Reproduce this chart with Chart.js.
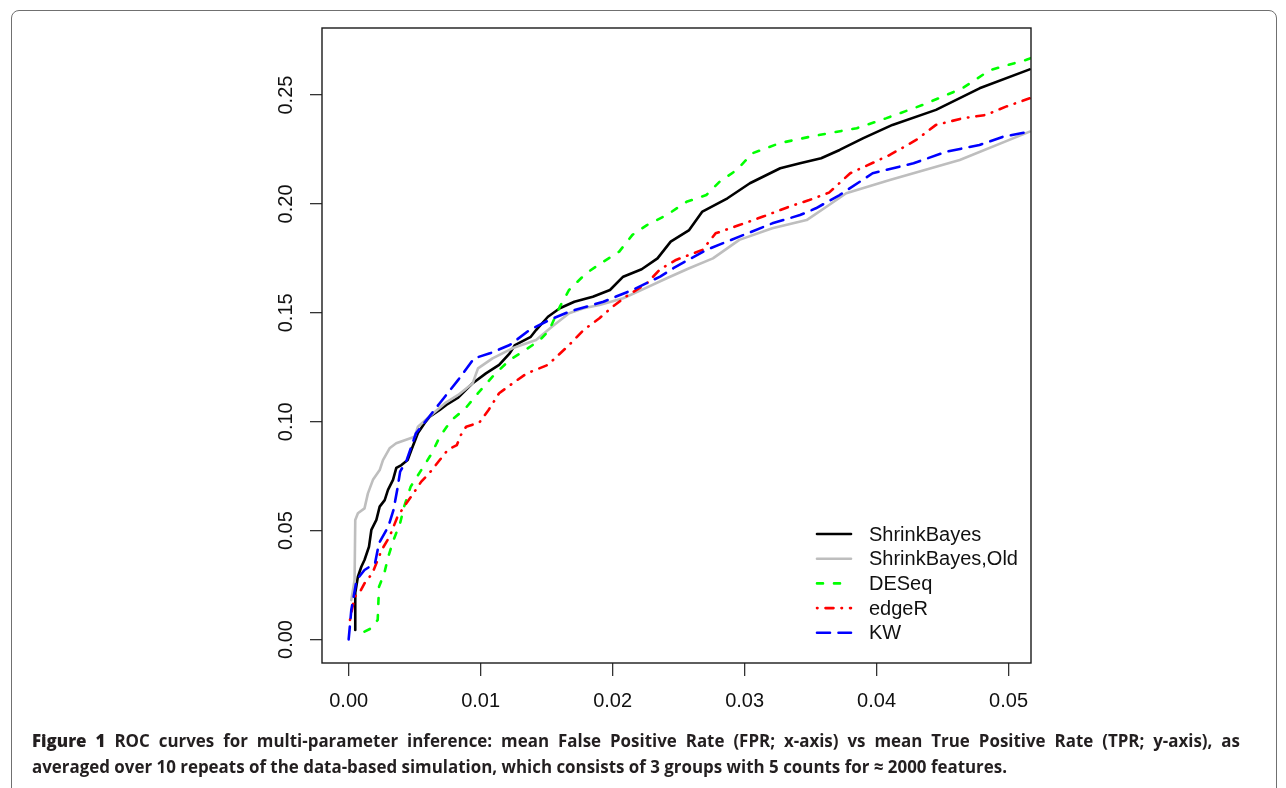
<!DOCTYPE html>
<html><head><meta charset="utf-8">
<script src="https://cdn.jsdelivr.net/npm/chart.js@4.4.1/dist/chart.umd.min.js"></script>
<style>
html,body{margin:0;padding:0;background:#fff;overflow:hidden;}
#wrap{position:relative;width:1286px;height:788px;overflow:hidden;background:#fff;}
#frame{position:absolute;left:11px;top:10px;width:1266px;height:820px;border:1.5px solid #707070;border-radius:8px;box-sizing:border-box;}
canvas{position:absolute;left:0;top:0;}
.cap{position:absolute;left:32px;height:22px;line-height:22px;font-family:"Open Sans","Noto Sans",sans-serif;font-size:18px;font-weight:700;color:#231f20;white-space:nowrap;transform-origin:0 50%;}
.cap b{font-weight:800;}
</style></head>
<body><div id="wrap"><div id="frame"></div><canvas id="c" width="1286" height="788"></canvas>
<div class="cap" id="cap1" style="top:729px"><b>Figure 1</b> ROC curves for multi-parameter inference: mean False Positive Rate (FPR; x-axis) vs mean True Positive Rate (TPR; y-axis), as</div>
<div class="cap" id="cap2" style="top:755px">averaged over 10 repeats of the data-based simulation, which consists of 3 groups with 5 counts for ≈ 2000 features.</div>
</div>
<script>
// ---- data (FPR = x, TPR = y) ----
const seriesNames = ["ShrinkBayes", "ShrinkBayes,Old", "DESeq", "edgeR", "KW"];
const xTicks = [0, 0.01, 0.02, 0.03, 0.04, 0.05];
const yTicks = [0, 0.05, 0.10, 0.15, 0.20, 0.25];

const shrinkBayesFPR = [0.0005,0.0005,0.0007,0.00096,0.0012,0.00154,0.00172,0.0021,0.00235,0.00273,0.00298,0.00336,0.00361,0.004,0.00447,0.00475,0.00525,0.00576,0.00614,0.0069,0.0074,0.00826,0.0094,0.0104,0.0114,0.0122,0.0126,0.0138,0.0142,0.0151,0.016,0.0171,0.0185,0.0198,0.0208,0.0222,0.0234,0.0244,0.0258,0.0268,0.0287,0.0304,0.0327,0.0342,0.0358,0.0372,0.039,0.0412,0.0445,0.0478,0.0516];
const shrinkBayesTPR = [0.0044,0.0214,0.0288,0.0334,0.0365,0.0426,0.0503,0.0549,0.061,0.064,0.0687,0.0733,0.0788,0.0801,0.0824,0.087,0.0948,0.0994,0.1023,0.1054,0.1077,0.1109,0.1177,0.1222,0.1261,0.1314,0.1352,0.139,0.1421,0.1482,0.1521,0.1551,0.1574,0.1605,0.1666,0.17,0.175,0.1827,0.188,0.1965,0.2026,0.2095,0.2164,0.2187,0.221,0.2248,0.2302,0.2363,0.2432,0.2531,0.2618];

const oldFPR = [0.0002,0.00045,0.0005,0.0007,0.0012,0.00146,0.00184,0.00235,0.0026,0.0031,0.0036,0.005,0.00525,0.0061,0.0073,0.0083,0.0094,0.0098,0.0109,0.0124,0.0142,0.0154,0.0167,0.0178,0.019,0.0208,0.022,0.0241,0.0258,0.0276,0.0296,0.0321,0.0347,0.0364,0.0377,0.041,0.0463,0.0516];
const oldTPR = [0.0181,0.0273,0.0549,0.058,0.0602,0.0671,0.0733,0.0778,0.0824,0.0878,0.0901,0.0931,0.0977,0.1023,0.1085,0.1123,0.1177,0.1245,0.1291,0.1337,0.1375,0.1436,0.1498,0.1521,0.1536,0.1567,0.1600,0.1659,0.1705,0.175,0.1835,0.1888,0.1926,0.1995,0.2049,0.211,0.2202,0.2332];

const deseqFPR = [0.0012,0.0017,0.0022,0.0023,0.0027,0.003,0.0034,0.0039,0.0042,0.0047,0.0055,0.0063,0.0069,0.0078,0.0088,0.0098,0.0109,0.0122,0.0132,0.0145,0.0152,0.016,0.0167,0.018,0.0193,0.0205,0.0215,0.0226,0.0241,0.0256,0.0271,0.0281,0.0294,0.0306,0.0327,0.0349,0.0364,0.0385,0.0407,0.0435,0.0465,0.0486,0.0513,0.0517];
const deseqTPR = [0.0036,0.0051,0.009,0.0242,0.0304,0.038,0.0457,0.0534,0.061,0.0702,0.0778,0.0855,0.0931,0.1008,0.1058,0.1131,0.1207,0.1284,0.1322,0.1375,0.1421,0.1528,0.1605,0.1682,0.1735,0.1781,0.1858,0.1903,0.1949,0.201,0.2041,0.2102,0.2156,0.2233,0.228,0.2308,0.2325,0.2348,0.2393,0.2455,0.2531,0.2615,0.2661,0.267];

const edgeRFPR = [0.0001,0.00045,0.0008,0.0012,0.0018,0.0025,0.0031,0.0037,0.0042,0.0049,0.0055,0.0061,0.0069,0.0075,0.0082,0.0085,0.0089,0.0099,0.0106,0.0114,0.0126,0.0135,0.0151,0.0155,0.0167,0.0178,0.019,0.02,0.021,0.0226,0.0236,0.0248,0.0268,0.0278,0.0296,0.0314,0.0334,0.0349,0.0364,0.038,0.041,0.043,0.0445,0.0465,0.0483,0.0498,0.0516];
const edgeRTPR = [0.009,0.0197,0.0212,0.0258,0.0304,0.0411,0.0472,0.0564,0.061,0.0671,0.0725,0.0763,0.0824,0.087,0.0893,0.0939,0.0977,0.0996,0.1054,0.1131,0.1184,0.1222,0.1261,0.1284,0.1352,0.1421,0.1475,0.1528,0.1574,0.1636,0.170,0.1743,0.1789,0.1865,0.1903,0.1942,0.1988,0.2018,0.2052,0.2141,0.2225,0.2294,0.2363,0.2393,0.2409,0.2447,0.2485];

const kwFPR = [0,0.0002,0.0006,0.0012,0.002,0.0023,0.003,0.0034,0.0037,0.0039,0.0044,0.0051,0.0061,0.0069,0.0078,0.0083,0.0095,0.0107,0.0122,0.0137,0.0152,0.0167,0.0193,0.0215,0.0236,0.0246,0.0271,0.0296,0.0321,0.0342,0.0354,0.0372,0.0397,0.0428,0.0453,0.0478,0.0496,0.0516];
const kwTPR = [0,0.0135,0.0273,0.0319,0.035,0.0442,0.0518,0.0595,0.0694,0.0771,0.0824,0.0947,0.1023,0.1085,0.1154,0.1192,0.1291,0.1314,0.1352,0.1421,0.1467,0.1505,0.1551,0.1605,0.1666,0.1705,0.1789,0.185,0.1911,0.1949,0.198,0.2041,0.2141,0.2187,0.224,0.2271,0.2309,0.2332];

// ---- build ----
const zip = (xs, ys) => xs.map((x, i) => ({x: x, y: ys[i]}));
const styles = [
  {color: "#000000", dash: [], order: 4},
  {color: "#bebebe", dash: [], order: 3},
  {color: "#00ff00", dash: [6, 11], order: 2},
  {color: "#ff0000", dash: [0.5, 8, 8, 8], order: 1},
  {color: "#0000ff", dash: [13, 8.5], order: 0}
];
const seriesData = [
  zip(shrinkBayesFPR, shrinkBayesTPR),
  zip(oldFPR, oldTPR),
  zip(deseqFPR, deseqTPR),
  zip(edgeRFPR, edgeRTPR),
  zip(kwFPR, kwTPR)
];
const datasets = seriesNames.map((name, i) => ({
  label: name,
  data: seriesData[i],
  borderColor: styles[i].color,
  backgroundColor: styles[i].color,
  borderDash: styles[i].dash,
  borderWidth: 2.6,
  borderCapStyle: "round",
  borderJoinStyle: "round",
  pointRadius: 0,
  tension: 0,
  fill: false,
  order: styles[i].order
}));

const FONT = '"Liberation Sans", Arimo, Arial, sans-serif';

const boxPlugin = {
  id: "rbox",
  afterDraw(chart) {
    const a = chart.chartArea, ctx = chart.ctx;
    ctx.save();
    ctx.strokeStyle = "#1a1a1a";
    ctx.lineWidth = 1.4;
    ctx.strokeRect(a.left, a.top, a.right - a.left, a.bottom - a.top);
    ctx.restore();
  }
};
const legendPlugin = {
  id: "rlegend",
  afterDraw(chart) {
    const ctx = chart.ctx;
    chart.data.datasets.forEach((ds, i) => {
      const y = 534 + i * 24.7;
      ctx.save();
      ctx.strokeStyle = ds.borderColor;
      ctx.lineWidth = ds.borderWidth;
      ctx.lineCap = ds.borderCapStyle;
      ctx.setLineDash(ds.borderDash);
      ctx.beginPath();
      ctx.moveTo(817, y);
      ctx.lineTo(851, y);
      ctx.stroke();
      ctx.setLineDash([]);
      ctx.fillStyle = "#111";
      ctx.font = "20px " + FONT;
      ctx.textBaseline = "middle";
      ctx.textAlign = "left";
      ctx.fillText(ds.label, 869, y + 1);
      ctx.restore();
    });
  }
};

new Chart(document.getElementById("c"), {
  type: "line",
  data: {datasets: datasets},
  plugins: [boxPlugin, legendPlugin],
  options: {
    responsive: false,
    devicePixelRatio: 1,
    animation: false,
    layout: {padding: {left: 0, top: 28, right: 255, bottom: 0}},
    plugins: {legend: {display: false}, tooltip: {enabled: false}},
    scales: {
      x: {
        type: "linear",
        min: -0.00202,
        max: 0.0517,
        afterBuildTicks: s => { s.ticks = xTicks.map(v => ({value: v})); },
        afterFit: s => { s.height = 125; },
        border: {display: false},
        grid: {drawOnChartArea: false, drawTicks: true, tickLength: 13, color: "#333", lineWidth: 1.3},
        ticks: {autoSkip: false, maxRotation: 0, minRotation: 0, padding: 13, color: "#111",
                font: {family: FONT, size: 20}, callback: v => Number(v).toFixed(2)}
      },
      y: {
        type: "linear",
        min: -0.0108,
        max: 0.2808,
        afterBuildTicks: s => { s.ticks = yTicks.map(v => ({value: v})); },
        afterFit: s => { s.width = 322; },
        border: {display: false},
        grid: {drawOnChartArea: false, drawTicks: true, tickLength: 12, color: "#333", lineWidth: 1.3},
        ticks: {autoSkip: false, minRotation: 90, maxRotation: 90, crossAlign: "center", padding: 4, color: "#111",
                font: {family: FONT, size: 20}, callback: v => Number(v).toFixed(2)}
      }
    }
  }
});

// caption: condense the font to the reference width, justify the first line
(function () {
  const c1 = document.getElementById("cap1"), c2 = document.getElementById("cap2");
  const w2 = c2.getBoundingClientRect().width;
  const s = 975 / w2;
  const w1 = c1.getBoundingClientRect().width;
  const spaces = (c1.textContent.match(/ /g) || []).length;
  const extra = Math.max(0, (1208 / s - w1) / spaces);
  c1.style.wordSpacing = extra + "px";
  c1.style.transform = "scaleX(" + s + ")";
  c2.style.transform = "scaleX(" + s + ")";
})();
</script>
</body></html>
